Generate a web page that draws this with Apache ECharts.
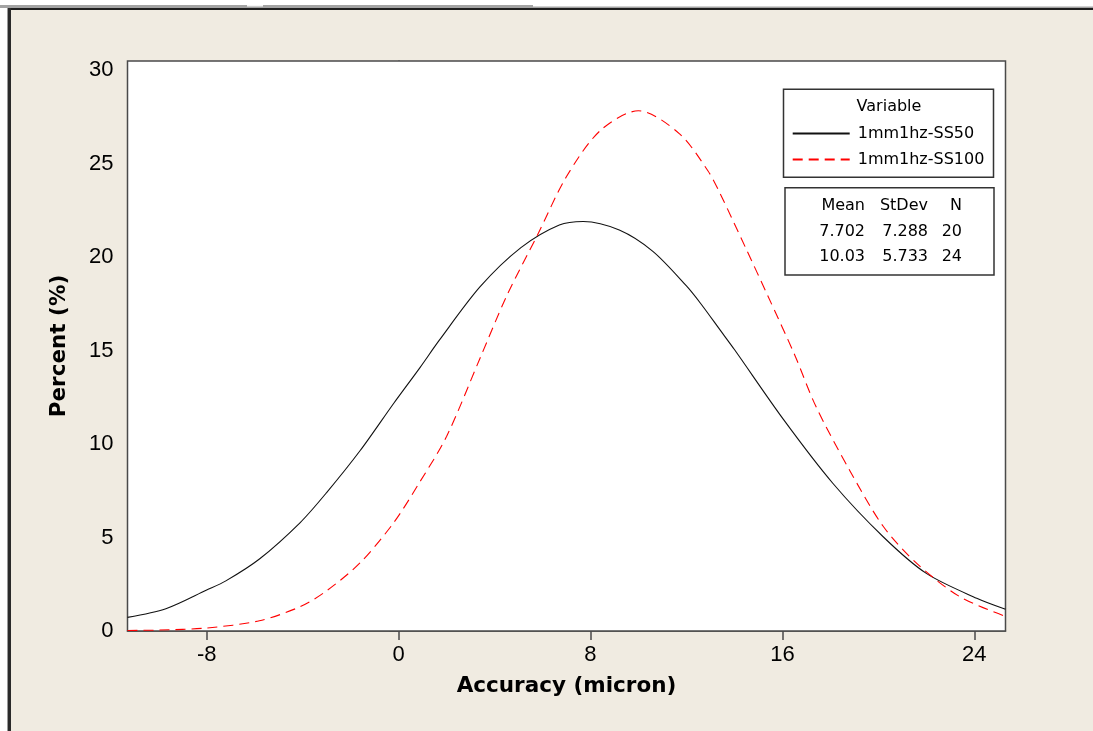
<!DOCTYPE html>
<html>
<head>
<meta charset="utf-8">
<script src="https://cdn.jsdelivr.net/npm/echarts@6/dist/echarts.min.js"></script>
<style>
html,body{margin:0;padding:0;background:#ffffff;}
#chart{width:1093px;height:731px;}
</style>
</head>
<body>
<div id="chart"></div>
<script>
// ---- data ----
var xTicks = [-8, 0, 8, 16, 24];
var yTicks = [0, 5, 10, 15, 20, 25, 30];

var seriesNames = ['1mm1hz-SS50', '1mm1hz-SS100'];

var blackX = [-11.3, -9.7, -8, -7.2, -5.8, -4.1, -3, -1.6, -0.2, 0.9, 1.7, 3.4, 5.1, 6.7, 7.7, 9.2, 10.6, 12, 12.6, 13.4, 14, 16.05, 18.1, 20.2, 22, 24.1, 25.3];
var blackY = [0.73, 1.19, 2.19, 2.68, 3.85, 5.8, 7.4, 9.65, 12.18, 14.1, 15.55, 18.41, 20.5, 21.71, 21.9, 21.44, 20.3, 18.45, 17.5, 16.1, 15.05, 11.3, 7.9, 5.04, 3.08, 1.75, 1.16];

var redX = [-11.3, -10, -8, -5.8, -4.1, -3, -1.6, -0.2, 0.9, 2, 3.4, 4.5, 5.8, 7, 8.4, 10, 11.7, 12.9, 13.4, 14.5, 15.4, 16.5, 17.4, 18.8, 20.2, 21.6, 23.4, 25.3];
var redY = [0.03, 0.05, 0.16, 0.55, 1.3, 2.15, 3.65, 5.8, 8.0, 10.4, 14.6, 17.9, 21.2, 24.3, 26.75, 27.82, 26.6, 24.6, 23.4, 20.4, 17.9, 14.8, 12.0, 8.6, 5.6, 3.62, 1.83, 0.78];

var statHeader = ['Mean', 'StDev', 'N'];
var statRows = [
  ['7.702', '7.288', '20'],
  ['10.03', '5.733', '24']
];

function pairs(xs, ys) {
  var out = [];
  for (var i = 0; i < xs.length; i++) out.push([xs[i], ys[i]]);
  return out;
}

var FONT = 'DejaVu Sans';
var TICKFONT = 'Liberation Sans';
var frame = '#4a4a4a';

var chart = echarts.init(document.getElementById('chart'), null, {renderer: 'canvas'});

var statGraphics = [];
var colRight = [865, 928, 962];
var rowY = [206, 231.7, 257];
var allRows = [statHeader].concat(statRows);
for (var r = 0; r < allRows.length; r++) {
  for (var c = 0; c < 3; c++) {
    statGraphics.push({
      type: 'text', z: 100,
      x: colRight[c], y: rowY[r],
      style: {text: allRows[r][c], font: '16px "' + FONT + '"', fill: '#000', align: 'right', verticalAlign: 'middle'}
    });
  }
}

var option = {
  backgroundColor: '#ffffff',
  animation: false,
  grid: {
    left: 127.5, top: 61, right: 87.5, bottom: 100,
    show: true, backgroundColor: '#ffffff', borderColor: frame, borderWidth: 1.5, z: 2
  },
  xAxis: {
    type: 'value', min: -11.3, max: 25.3,
    name: 'Accuracy (micron)', nameLocation: 'middle', nameGap: 44,
    nameTextStyle: {fontFamily: FONT, fontWeight: 'bold', fontSize: 21.5, color: '#000'},
    axisLine: {show: true, onZero: false, lineStyle: {color: frame, width: 1.5}},
    axisTick: {show: true, length: 9, customValues: xTicks, lineStyle: {color: frame, width: 1.5}},
    axisLabel: {customValues: xTicks, margin: 13, fontFamily: TICKFONT, fontSize: 22, color: '#000'},
    splitLine: {show: false}
  },
  yAxis: {
    type: 'value', min: 0, max: 30.48,
    name: 'Percent (%)', nameLocation: 'middle', nameGap: 57, nameRotate: 90,
    nameTextStyle: {fontFamily: FONT, fontWeight: 'bold', fontSize: 21.5, color: '#000'},
    axisLine: {show: true, lineStyle: {color: frame, width: 1.5}},
    axisTick: {show: true, length: 9, customValues: yTicks, lineStyle: {color: frame, width: 1.5}},
    axisLabel: {customValues: yTicks, margin: 14, fontFamily: TICKFONT, fontSize: 22, color: '#000'},
    splitLine: {show: false}
  },
  legend: {
    orient: 'vertical', left: 791.7, top: 123.5, padding: 0,
    itemWidth: 57, itemHeight: 14, itemGap: 6,
    data: seriesNames,
    itemStyle: {opacity: 0},
    textStyle: {fontFamily: FONT, fontSize: 16, color: '#000', lineHeight: 20, padding: [0, 0, 0, 3]},
    z: 100
  },
  graphic: [
    {type: 'rect', z: -10, silent: true, shape: {x: 11, y: 10, width: 1082, height: 721}, style: {fill: '#F0EBE1'}},
    {type: 'rect', z: -9, silent: true, shape: {x: 0, y: 5, width: 533, height: 3}, style: {fill: '#a3a3a3'}},
    {type: 'rect', z: -9, silent: true, shape: {x: 533, y: 6.5, width: 560, height: 1.5}, style: {fill: '#a3a3a3'}},
    {type: 'rect', z: -8, silent: true, shape: {x: 247, y: 5, width: 16, height: 1.5}, style: {fill: '#f4f4f4'}},
    {type: 'rect', z: -9, silent: true, shape: {x: 7, y: 8, width: 1086, height: 2}, style: {fill: '#1e1e1e'}},
    {type: 'rect', z: -9, silent: true, shape: {x: 7, y: 8, width: 1, height: 723}, style: {fill: '#9a9a9a'}},
    {type: 'rect', z: -9, silent: true, shape: {x: 8, y: 8, width: 3, height: 723}, style: {fill: '#2a2a2a'}},
    {type: 'rect', z: 90, silent: true, shape: {x: 783.5, y: 89.3, width: 210, height: 88}, style: {fill: '#ffffff', stroke: '#333', lineWidth: 1.5}},
    {type: 'text', z: 100, x: 889, y: 106.7, style: {text: 'Variable', font: '16px "' + FONT + '"', fill: '#000', align: 'center', verticalAlign: 'middle'}},
    {type: 'rect', z: 90, silent: true, shape: {x: 785, y: 187.7, width: 209, height: 87.3}, style: {fill: '#ffffff', stroke: '#333', lineWidth: 1.5}}
  ].concat(statGraphics),
  series: [
    {
      name: seriesNames[0], type: 'line', data: pairs(blackX, blackY),
      showSymbol: false, symbol: 'none', smooth: 0.3,
      lineStyle: {color: '#111', width: 1.1, type: 'solid'}, itemStyle: {color: '#111'}, z: 3
    },
    {
      name: seriesNames[1], type: 'line', data: pairs(redX, redY),
      showSymbol: false, symbol: 'none', smooth: 0.3,
      lineStyle: {color: '#ff0000', width: 1.1, type: [10, 6]}, itemStyle: {color: '#ff0000'}, z: 4
    }
  ]
};
chart.setOption(option);
</script>
</body>
</html>
